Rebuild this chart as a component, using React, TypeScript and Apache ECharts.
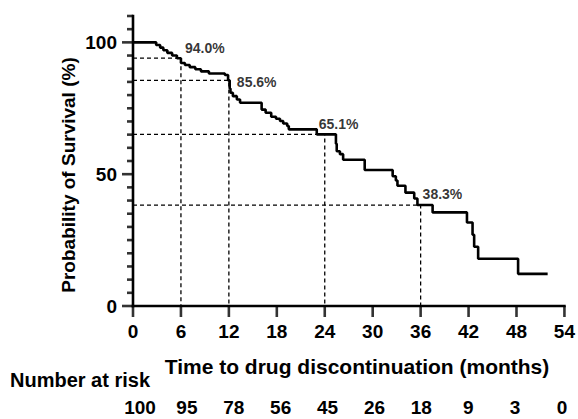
import React, { useEffect, useRef } from 'react';
import * as echarts from 'echarts';

// Kaplan–Meier step points (months, % surviving)
const times = [0, 2.9, 3.4, 3.8, 4.3, 4.9, 5.5, 6.0, 6.5, 7.1, 7.8, 8.5, 9.5, 11.5, 11.9, 12.1, 12.2, 12.5, 13.0, 13.4, 16.1, 16.6, 17.3, 17.9, 18.4, 18.8, 19.3, 19.5, 23.0, 25.4, 25.5, 25.9, 26.3, 29.0, 32.5, 32.9, 33.1, 34.1, 35.2, 35.6, 37.5, 41.8, 42.5, 42.7, 43.2, 48.2, 51.9];
const survival = [100, 99, 98, 97, 96, 95, 94, 92.2, 91.4, 90.6, 89.8, 89.0, 88.2, 87.6, 85.6, 82.5, 80.9, 79.6, 78.3, 77.1, 74.5, 73.3, 71.8, 71.0, 70.2, 69.2, 68.3, 67.0, 65.1, 61.5, 58.7, 57.6, 55.5, 51.6, 49.2, 47.6, 45.6, 43.0, 40.8, 38.3, 35.5, 31.7, 27.0, 22.5, 17.9, 12.2, 12.2];

// Annotated landmarks
const markTimes = [6, 12, 24, 36];
const markPct = [94.0, 85.6, 65.1, 38.3];

// Number at risk table
const riskTimes = [0, 6, 12, 18, 24, 30, 36, 42, 48, 54];
const atRisk = [100, 95, 78, 56, 45, 26, 18, 9, 3, 0];

// Axis tick values
const xTicks = [0, 6, 12, 18, 24, 30, 36, 42, 48, 54];
const yMajorTicks = [0, 50, 100];
const yMinorTicks = [5, 10, 15, 20, 25, 30, 35, 40, 45, 55, 60, 65, 70, 75, 80, 85, 90, 95, 105, 110];
const X_MAX = 54;
const Y_MAX = 110;

// styling (label offsets in px)
const labelOffsets = [[4, -10], [8, 2], [-6, -10], [2, -11]];
const FONT = '"Liberation Sans", Arial, Helvetica, sans-serif';
const MAJOR_LEN = 11;
const MINOR_LEN = 6;
const TICK_W = 2.6;

export default function App() {
  const ref = useRef<HTMLDivElement>(null);
  useEffect(() => {
    document.body.style.margin = '0';
    if (!ref.current) return;
    const chart = echarts.init(ref.current, null, { renderer: 'svg' });
    const curve = times.map((t, i) => [t, survival[i]]);
    const dashedSeries = markTimes.map((t, i) => ({
      type: 'line',
      xAxisIndex: 0,
      yAxisIndex: 0,
      data: [[0, markPct[i]], [t, markPct[i]], [t, 0]],
      symbol: 'none',
      silent: true,
      lineStyle: { color: '#000', width: 1.3, type: [4, 3] },
      z: 2,
    }));
    const textBase = { color: '#000', fontWeight: 'bold', fontFamily: FONT };
    const tickSeries = (data: number[][], size: number[], offset: number[]) => ({
      type: 'scatter', xAxisIndex: 0, yAxisIndex: 0, silent: true, clip: false, z: 4,
      symbol: 'rect', symbolSize: size, symbolOffset: offset,
      itemStyle: { color: '#000' },
      data,
    });
    const axisLineSeries = (data: number[][]) => ({
      type: 'line', xAxisIndex: 0, yAxisIndex: 0, silent: true, clip: false, z: 4,
      symbol: 'none', lineStyle: { color: '#000', width: 2.6, cap: 'square' },
      data,
    });
    const option: any = {
      animation: false,
      grid: [
        { left: 133, right: 13, top: 16, bottom: 113 },
        { left: 140, right: 16, top: 392, height: 1 },
      ],
      xAxis: [
        {
          type: 'value', gridIndex: 0, min: 0, max: X_MAX, interval: 6, position: 'bottom',
          axisLine: { show: false },
          axisTick: { show: false },
          axisLabel: { ...textBase, fontSize: 19, margin: 16 },
          splitLine: { show: false },
        },
        {
          type: 'value', gridIndex: 1, min: 0, max: X_MAX, interval: 6, position: 'bottom',
          axisLine: { show: false }, axisTick: { show: false },
          axisLabel: {
            ...textBase, fontSize: 19, margin: 5,
            formatter: (v: number) => {
              const i = riskTimes.indexOf(v);
              return i >= 0 ? String(atRisk[i]) : '';
            },
          },
          splitLine: { show: false },
        },
      ],
      yAxis: [
        {
          type: 'value', gridIndex: 0, min: 0, max: Y_MAX, interval: 50, position: 'left',
          axisLine: { show: false },
          axisTick: { show: false },
          axisLabel: {
            ...textBase, fontSize: 19, margin: 16,
            formatter: (v: number) => (yMajorTicks.includes(v) ? String(v) : ''),
          },
          splitLine: { show: false },
        },
        { type: 'value', gridIndex: 1, min: 0, max: 1, show: false },
      ],
      series: [
        axisLineSeries([[0, 0], [X_MAX, 0]]),
        axisLineSeries([[0, 0], [0, Y_MAX]]),
        tickSeries(xTicks.map((v) => [v, 0]), [TICK_W, MAJOR_LEN], [0, MAJOR_LEN / 2]),
        tickSeries(yMajorTicks.map((v) => [0, v]), [MAJOR_LEN, TICK_W], [-MAJOR_LEN / 2, 0]),
        tickSeries(yMinorTicks.map((v) => [0, v]), [MINOR_LEN, TICK_W], [-MINOR_LEN / 2, 0]),
        ...dashedSeries,
        {
          type: 'line', xAxisIndex: 0, yAxisIndex: 0, data: curve, step: 'end',
          symbol: 'none', lineStyle: { color: '#000', width: 2.6 }, z: 5,
        },
        {
          type: 'scatter', xAxisIndex: 0, yAxisIndex: 0, symbolSize: 0, z: 6,
          data: markTimes.map((t, i) => ({
            value: [t, markPct[i]],
            label: { offset: labelOffsets[i] },
          })),
          label: {
            show: true, position: 'right', distance: 0,
            ...textBase, fontSize: 14,
            formatter: (p: any) => `${p.value[1].toFixed(1)}%`,
          },
        },
      ],
      graphic: [
        {
          type: 'text', x: 357, y: 366,
          style: { text: 'Time to drug discontinuation (months)', align: 'center', verticalAlign: 'middle', fill: '#000', font: `bold 21px ${FONT}` },
        },
        {
          type: 'text', x: 10, y: 380,
          style: { text: 'Number at risk', align: 'left', verticalAlign: 'middle', fill: '#000', font: `bold 20px ${FONT}` },
        },
        {
          type: 'text', x: 68, y: 175, rotation: Math.PI / 2,
          style: { text: 'Probability of Survival (%)', align: 'center', verticalAlign: 'middle', fill: '#000', font: `bold 19px ${FONT}` },
        },
      ],
    };
    chart.setOption(option);
    return () => chart.dispose();
  }, []);
  return <div ref={ref} style={{ width: 578, height: 419 }} />;
}
